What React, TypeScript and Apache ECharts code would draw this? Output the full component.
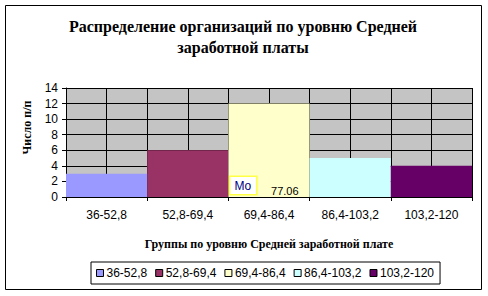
import React, { useEffect, useRef } from "react";
import * as echarts from "echarts";

const categories = ["36-52,8", "52,8-69,4", "69,4-86,4", "86,4-103,2", "103,2-120"];
const counts = [3, 6, 12, 5, 4];
const colors = ["#9999FF", "#993366", "#FFFFCC", "#CCFFFF", "#660066"];
const halfTicks = ["a1", "a2", "b1", "b2", "c1", "c2", "d1", "d2", "e1", "e2"];
const modeLabel = "Mo";
const modeValue = "77.06";
const modeIndex = 2;

const serif = "'Liberation Serif', 'Times New Roman', serif";
const sans = "'Liberation Sans', Arial, sans-serif";

export default function App() {
  const ref = useRef<HTMLDivElement>(null);
  useEffect(() => {
    const chart = echarts.init(ref.current!, null, { renderer: "svg" });
    const series = categories.map((name, i) => ({
      name,
      type: "bar",
      stack: "all",
      xAxisIndex: 0,
      barWidth: "100%",
      data: counts.map((v, j) => (j === i ? v : "-")),
      itemStyle: { color: colors[i], borderWidth: 0 },
      label:
        i === modeIndex
          ? {
              show: true,
              position: "insideBottomLeft",
              distance: 0,
              offset: [2, -3],
              formatter: `{mo|${modeLabel}}{val|${modeValue}}`,
              rich: {
                mo: {
                  fontFamily: sans,
                  fontSize: 12,
                  color: "#000080",
                  backgroundColor: "#ffffff",
                  borderColor: "#ffff44",
                  borderWidth: 1.5,
                  padding: [3, 5, 2, 4],
                  verticalAlign: "bottom",
                },
                val: {
                  fontFamily: sans,
                  fontSize: 11,
                  color: "#000000",
                  padding: [0, 0, -2, 15],
                  verticalAlign: "bottom",
                },
              },
            }
          : { show: false },
    }));
    chart.setOption({
      animation: false,
      backgroundColor: "#ffffff",
      title: {
        text: "Распределение организаций по уровню Средней\nзаработной платы",
        left: 238,
        textAlign: "center",
        top: 11,
        textStyle: {
          fontFamily: serif,
          fontWeight: "bold",
          fontSize: 16,
          lineHeight: 21,
          color: "#000000",
        },
      },
      legend: {
        left: 91,
        top: 262,
        itemWidth: 7,
        itemHeight: 7,
        itemGap: 8,
        icon: "rect",
        padding: [5, 6, 5, 5],
        borderColor: "#000000",
        borderWidth: 1,
        textStyle: { fontFamily: sans, fontSize: 12, color: "#000000", padding: [1, 0, 0, -2] },
        itemStyle: { borderColor: "#000000", borderWidth: 1 },
        data: categories,
      },
      graphic: [
        {
          type: "rect",
          shape: { x: 5.5, y: 5.5, width: 476, height: 284 },
          style: { fill: "none", stroke: "#000000", lineWidth: 1 },
          silent: true,
        },
      ],
      grid: {
        left: 66,
        top: 88,
        right: 16,
        bottom: 99,
        show: true,
        backgroundColor: "#c4c4c4",
        borderWidth: 0,
        containLabel: false,
        outerBoundsMode: "none",
      },
      xAxis: [
        {
          type: "category",
          data: categories,
          axisLine: { show: true, lineStyle: { color: "#000000", width: 1 } },
          axisTick: { show: true, length: 4, lineStyle: { color: "#000000" } },
          axisLabel: { fontFamily: sans, fontSize: 12, color: "#000000", margin: 12 },
          splitLine: { show: false },
          name: "Группы по уровню Средней заработной плате",
          nameLocation: "middle",
          nameGap: 41,
          nameTextStyle: { fontFamily: serif, fontWeight: "bold", fontSize: 12, color: "#000000" },
          z: 5,
        },
        {
          type: "category",
          data: halfTicks,
          position: "bottom",
          axisLine: { show: false },
          axisTick: { show: false },
          axisLabel: { show: false },
          splitLine: { show: true, lineStyle: { color: "#000000", width: 1 } },
        },
      ],
      yAxis: {
        type: "value",
        min: 0,
        max: 14,
        interval: 2,
        axisLine: { show: true, lineStyle: { color: "#000000", width: 1 } },
        axisTick: { show: true, length: 4, lineStyle: { color: "#000000" } },
        axisLabel: { fontFamily: sans, fontSize: 12, color: "#000000", margin: 8 },
        splitLine: { show: true, lineStyle: { color: "#000000", width: 1 } },
        name: "Число п/п",
        nameLocation: "middle",
        nameGap: 33,
        nameTextStyle: {
          fontFamily: serif,
          fontWeight: "bold",
          fontSize: 12,
          color: "#000000",
          padding: [0, 0, 0, 30],
        },
      },
      series,
    });
    return () => chart.dispose();
  }, []);
  return (
    <div
      ref={ref}
      style={{ position: "fixed", left: 0, top: 0, width: 488, height: 296 }}
    />
  );
}
